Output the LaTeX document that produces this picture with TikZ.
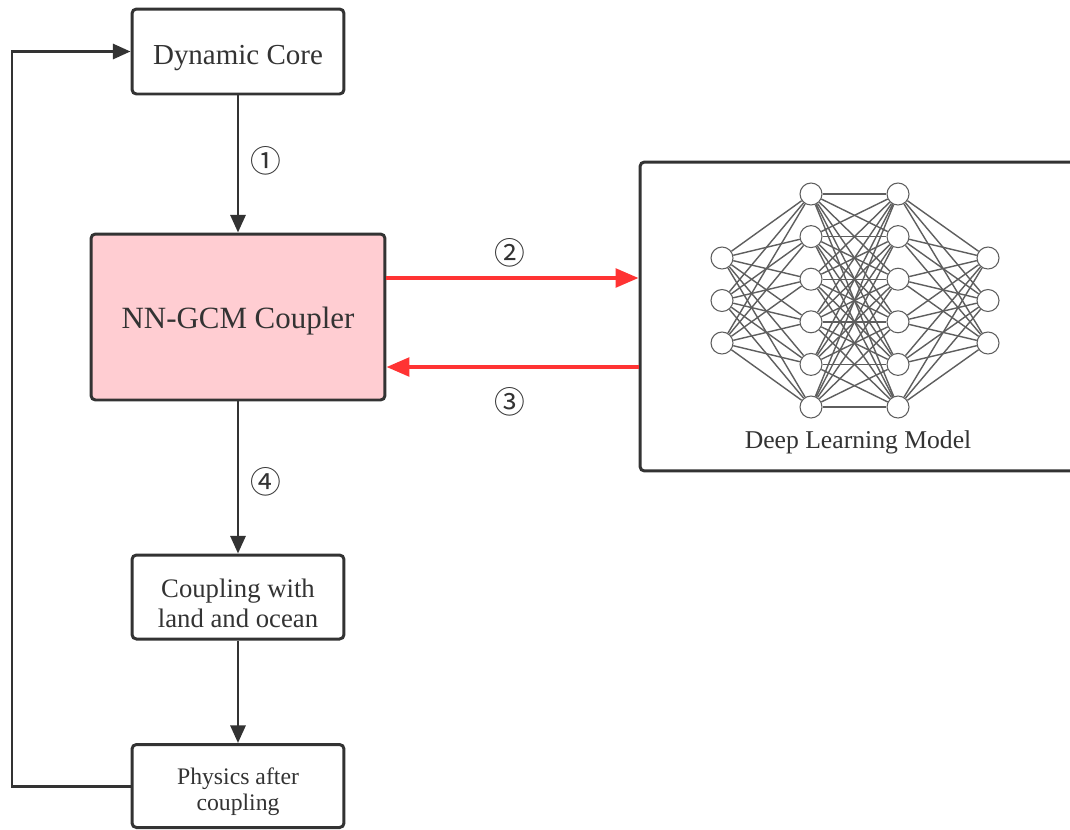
\documentclass[tikz,border=0pt]{standalone}
\usepackage{fontspec}
\setmainfont{Liberation Serif}
\newfontfamily\circfont{Noto Sans CJK SC}
\usetikzlibrary{arrows.meta}
\definecolor{ink}{HTML}{333333}
\definecolor{redline}{HTML}{FF3333}
\definecolor{pinkfill}{HTML}{FFCDD2}
\definecolor{netgray}{HTML}{5E5E5E}
\tikzset{
  box/.style={draw=ink, line width=1.7pt, rounded corners=2.5pt, fill=white, inner sep=0pt},
  txt/.style={text=ink, align=center, inner sep=0pt, anchor=base},
  arr/.style={draw=ink, line width=1.7pt, -{Triangle[length=10pt,width=8.5pt]}},
  redarr/.style={draw=redline, line width=2.2pt, -{Triangle[length=13pt,width=10.5pt]}},
  circlbl/.style={text=ink, font=\circfont\fontsize{17.5}{20}\selectfont, inner sep=0pt},
  neuron/.style={circle, draw=netgray, line width=0.6pt, fill=white, minimum size=0.44cm, inner sep=0pt},
  netline/.style={draw=netgray, line width=0.8pt},
}
\begin{document}
\begin{tikzpicture}[x=0.02cm,y=-0.02cm]
\useasboundingbox (0,0) rectangle (1070,829);
\begin{scope}
\clip (0,0) rectangle (1070,829);
% main boxes
\node[box, minimum width=4.24cm, minimum height=1.7cm] (dc) at (238,51.5) {};
\node[box, fill=pinkfill, minimum width=5.88cm, minimum height=3.32cm] (cp) at (238,317) {};
\node[box, minimum width=4.24cm, minimum height=1.68cm] (cl) at (238,597) {};
\node[box, minimum width=4.24cm, minimum height=1.66cm] (ph) at (238,786) {};
\node[box, minimum width=8.8cm, minimum height=6.18cm] (dl) at (860,316.5) {};
\node[txt, font=\fontsize{16.5}{19}\selectfont] (dct) at (238,64) {Dynamic Core};
\node[txt, font=\fontsize{17.6}{20}\selectfont] (cpt) at (238,328) {NN-GCM Coupler};
\node[txt, font=\fontsize{15.2}{17}\selectfont] (clt) at (238,627) {Coupling with\\land and ocean};
\node[txt, font=\fontsize{13.5}{14.7}\selectfont] (pht) at (238,810) {Physics after\\coupling};
\node[txt, font=\fontsize{14.6}{17}\selectfont] (dlt) at (858,448) {Deep Learning Model};

% neural network
\foreach \y [count=\i] in {258,300.5,343} { \node[neuron] (a\i) at (722,\y) {}; }
\foreach \y [count=\i] in {194,236.6,279.2,321.8,364.4,407} { \node[neuron] (b\i) at (811,\y) {}; }
\foreach \y [count=\i] in {194,236.6,279.2,321.8,364.4,407} { \node[neuron] (c\i) at (898,\y) {}; }
\foreach \y [count=\i] in {258,300.5,343} { \node[neuron] (d\i) at (988,\y) {}; }
\foreach \i in {1,2,3} { \foreach \j in {1,...,6} { \draw[netline] (a\i) -- (b\j); \draw[netline] (c\j) -- (d\i); } }
\foreach \i in {1,...,6} { \foreach \j in {1,...,6} { \draw[netline] (b\i) -- (c\j); } }

% vertical arrows
\draw[arr] (dc) -- (cp);
\draw[arr] (cp) -- (cl);
\draw[arr] (cl) -- (ph);
\node[circlbl] (n1) at (265.5,161) {①};
\node[circlbl] (n4) at (265.5,482) {④};

% feedback loop
\coordinate (lp) at (12,786);
\draw[arr] (ph.west) -- (lp) |- (dc.west);

% red arrows
\coordinate (r2) at (0,278);
\coordinate (r3) at (0,367);
\draw[redarr] (cp.east |- r2) -- (dl.west |- r2);
\draw[redarr] (dl.west |- r3) -- (cp.east |- r3);
\node[circlbl] (n2) at (510,253) {②};
\node[circlbl] (n3) at (510,402) {③};
\end{scope}
\end{tikzpicture}
\end{document}
